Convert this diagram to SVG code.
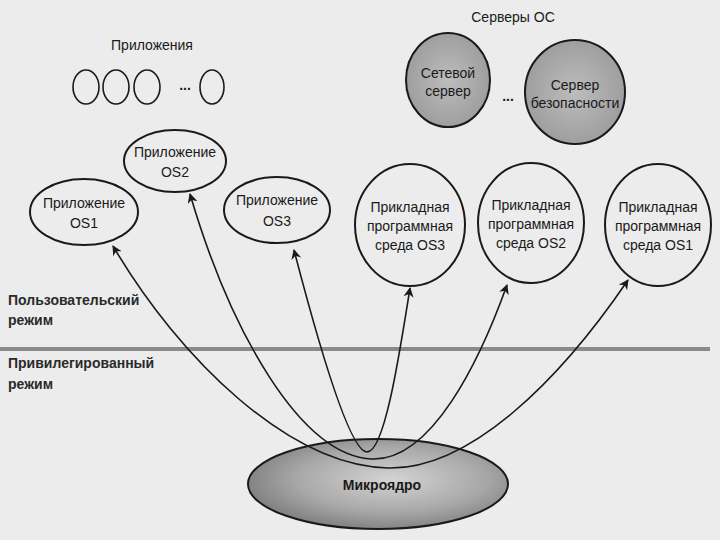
<svg xmlns="http://www.w3.org/2000/svg" width="720" height="540" viewBox="0 0 720 540">
<defs>
<style>
text{font-family:"Liberation Sans",Arial,sans-serif;fill:#1a1a1a;}
.t{font-size:14px;text-anchor:middle;}
.lbl{font-size:14px;font-weight:bold;fill:#2a2a2a;}
.node{fill:none;stroke:#1a1a1a;stroke-width:2;}
.small{fill:none;stroke:#1a1a1a;stroke-width:1.6;}
.srv{fill:url(#srvg);stroke:#1a1a1a;stroke-width:2;}
.conn{fill:none;stroke:#1a1a1a;stroke-width:1.6;marker-start:url(#arr);marker-end:url(#arr);}
</style>
<marker id="arr" viewBox="0 0 10 10" refX="9" refY="5" markerWidth="10" markerHeight="10" markerUnits="userSpaceOnUse" orient="auto-start-reverse">
<path d="M0,0 L10,5 L0,10 L3,5 Z" fill="#1a1a1a"/>
</marker>
<radialGradient id="srvg" cx="0.5" cy="0.5" r="0.6">
<stop offset="0" stop-color="#bdbdbd"/>
<stop offset="1" stop-color="#989898"/>
</radialGradient>
<radialGradient id="kg" cx="0.55" cy="0.45" r="0.6">
<stop offset="0" stop-color="#d4d4d4"/>
<stop offset="0.6" stop-color="#a8a8a8"/>
<stop offset="1" stop-color="#7a7a7a"/>
</radialGradient>
</defs>
<rect width="720" height="540" fill="#ececec"/>

<g id="apps">
<text class="t" x="152" y="50">Приложения</text>
<ellipse class="small" cx="86" cy="87" rx="13" ry="17"/>
<ellipse class="small" cx="116" cy="87" rx="13" ry="17"/>
<ellipse class="small" cx="147" cy="87" rx="13" ry="17"/>
<text class="t" x="185" y="90" font-weight="bold">...</text>
<ellipse class="small" cx="212" cy="87" rx="12" ry="17"/>
</g>

<g id="servers">
<text class="t" x="513" y="22">Серверы ОС</text>
<text class="t" x="508" y="101" font-weight="bold">...</text>
</g>
<g id="net-server">
<ellipse class="srv" cx="448" cy="80" rx="42" ry="47"/>
<text class="t" x="448" y="78">Сетевой</text>
<text class="t" x="448" y="96">сервер</text>
</g>
<g id="sec-server">
<ellipse class="srv" cx="575" cy="92" rx="50" ry="52"/>
<text class="t" x="575" y="90">Сервер</text>
<text class="t" x="575" y="108">безопасности</text>
</g>

<g id="app-os1">
<ellipse class="node" cx="84" cy="212" rx="54" ry="33"/>
<text class="t" x="84" y="208">Приложение</text>
<text class="t" x="84" y="228">OS1</text>
</g>
<g id="app-os2">
<ellipse class="node" cx="175" cy="161" rx="51" ry="31"/>
<text class="t" x="175" y="157">Приложение</text>
<text class="t" x="175" y="177">OS2</text>
</g>
<g id="app-os3">
<ellipse class="node" cx="277" cy="210" rx="53" ry="33"/>
<text class="t" x="277" y="205">Приложение</text>
<text class="t" x="277" y="226">OS3</text>
</g>

<g id="env-os3">
<ellipse class="node" cx="410" cy="225" rx="55" ry="61"/>
<text class="t" x="410" y="212">Прикладная</text>
<text class="t" x="410" y="231">программная</text>
<text class="t" x="410" y="250">среда OS3</text>
</g>
<g id="env-os2">
<ellipse class="node" cx="531" cy="223" rx="53" ry="60"/>
<text class="t" x="531" y="210">Прикладная</text>
<text class="t" x="531" y="229">программная</text>
<text class="t" x="531" y="248">среда OS2</text>
</g>
<g id="env-os1">
<ellipse class="node" cx="658" cy="225" rx="53" ry="61"/>
<text class="t" x="658" y="212">Прикладная</text>
<text class="t" x="658" y="231">программная</text>
<text class="t" x="658" y="250">среда OS1</text>
</g>

<g id="modes">
<text class="lbl" x="8" y="305">Пользовательский</text>
<text class="lbl" x="8" y="325">режим</text>
<line x1="0" y1="349" x2="710" y2="349" stroke="#8a8a8a" stroke-width="4"/>
<text class="lbl" x="8" y="368">Привилегированный</text>
<text class="lbl" x="8" y="389">режим</text>
</g>

<g id="microkernel">
<ellipse cx="378" cy="484" rx="130" ry="45" fill="url(#kg)" stroke="#1a1a1a" stroke-width="2"/>
<text class="t" x="382" y="490" font-weight="bold" font-size="15">Микроядро</text>
</g>

<g id="connectors">
<path class="conn" d="M113,246 C180,360 290,466 388,468 C470,470 560,380 628,280"/>
<path class="conn" d="M190,194 C230,330 300,456 372,459 C432,461 480,360 507,285"/>
<path class="conn" d="M294,250 C320,350 350,452 367,452 C385,452 400,350 410,288"/>
</g>
</svg>
